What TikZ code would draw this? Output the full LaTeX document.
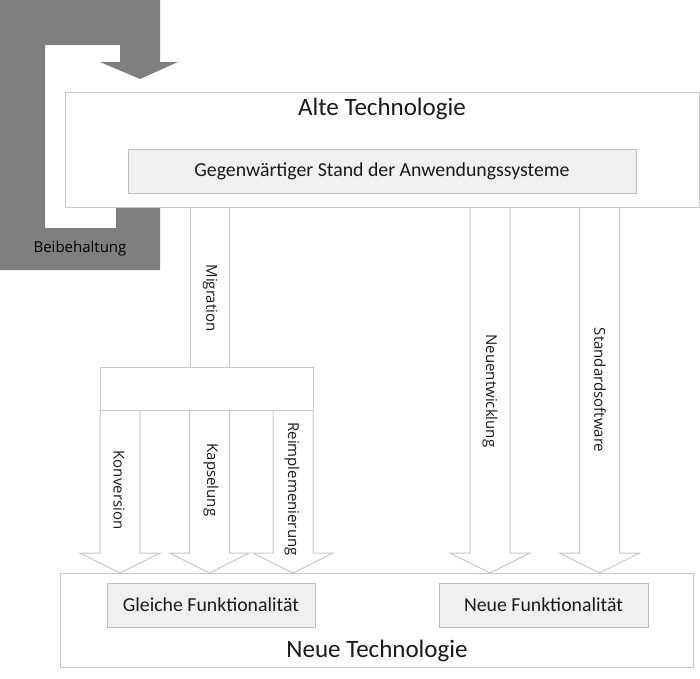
\documentclass[tikz,border=0pt]{standalone}
\usepackage{fontspec}
\setmainfont{Carlito}
\newfontfamily\lblfont{Open Sans}
\definecolor{lineg}{HTML}{C8C8C8}
\definecolor{boxfill}{HTML}{F0F0F0}
\definecolor{boxline}{HTML}{BFBFBF}
\definecolor{darkg}{HTML}{7F7F7F}
\definecolor{txt}{HTML}{1A1A1A}
\tikzset{
  bigbox/.style={draw=lineg, line width=1pt, fill=white, inner sep=0pt, anchor=north west},
  innerbox/.style={draw=boxline, line width=1pt, fill=boxfill, inner sep=0pt, anchor=north west},
  bigtxt/.style={text=txt, font=\fontsize{25}{25}\selectfont, inner sep=0pt},
  midtxt/.style={text=txt, font=\fontsize{19.8}{20}\selectfont, inner sep=0pt},
  rotlbl/.style={text=txt, font=\lblfont\fontsize{15}{15}\selectfont, rotate=-90, inner sep=0pt},
  arrowst/.style={draw=lineg, line width=1pt, line join=miter}
}
\newcommand{\blockarr}[3]{% centre x, top y, head base y
  \draw[arrowst] (#1-20,#2) -- (#1-20,#3) -- (#1-40,#3) -- (#1,#3+20) -- (#1+40,#3) -- (#1+20,#3) -- (#1+20,#2);
}
\begin{document}
\begin{tikzpicture}[x=1pt,y=-1pt]
\useasboundingbox (0,0) rectangle (700,678);
% Beibehaltung U-turn arrow
\fill[darkg] (0,0) -- (160,0) -- (160,62) -- (178,62) -- (140,79) -- (100,62) -- (120,62)
  -- (120,45) -- (45,45) -- (45,228) -- (116,228) -- (116,207) -- (160,207) -- (160,270)
  -- (0,270) -- cycle;
\node[text=black, font=\lblfont\fontsize{15}{15}\selectfont, inner sep=0pt] (keep) at (80,249) {Beibehaltung};
% Old technology
\node[bigbox, minimum width=634pt, minimum height=115pt] (alt) at (65,92) {};
\node[bigtxt] (altt) at (382,109) {Alte Technologie};
\node[innerbox, minimum width=508pt, minimum height=44pt] (stand) at (128,149) {};
\node[midtxt] (standt) at (382,171) {Gegenwärtiger Stand der Anwendungssysteme};
% New technology
\node[bigbox, minimum width=633pt, minimum height=94pt] (neu) at (60,573) {};
\node[bigtxt] (neut) at (377,651) {Neue Technologie};
\node[innerbox, minimum width=208pt, minimum height=44pt] (gleich) at (107,583) {};
\node[midtxt] (gleicht) at (211,605) {Gleiche Funktionalität};
\node[innerbox, minimum width=209pt, minimum height=44pt] (neuf) at (439,583) {};
\node[midtxt] (neuft) at (543.5,605) {Neue Funktionalität};
% Migration
\draw[arrowst] (190,207.5) -- (190,367) (229,207.5) -- (229,367);
\node[rotlbl] (mig) at (210,298) {Migration};
\blockarr{120}{410}{553}
\node[rotlbl] (konv) at (119,490) {Konversion};
\blockarr{209.5}{410}{553}
\node[rotlbl] (kaps) at (211,480) {Kapselung};
\blockarr{293}{410}{553}
\node[rotlbl] (reimp) at (292,489) {Reimplemenierung};
\node[bigbox, minimum width=213pt, minimum height=43pt] (split) at (100,367) {};
% Direct paths
\blockarr{490}{207.5}{553}
\node[rotlbl] (neuent) at (490,391) {Neuentwicklung};
\blockarr{599.5}{207.5}{553}
\node[rotlbl] (std) at (600,390) {Standardsoftware};
\end{tikzpicture}
\end{document}
